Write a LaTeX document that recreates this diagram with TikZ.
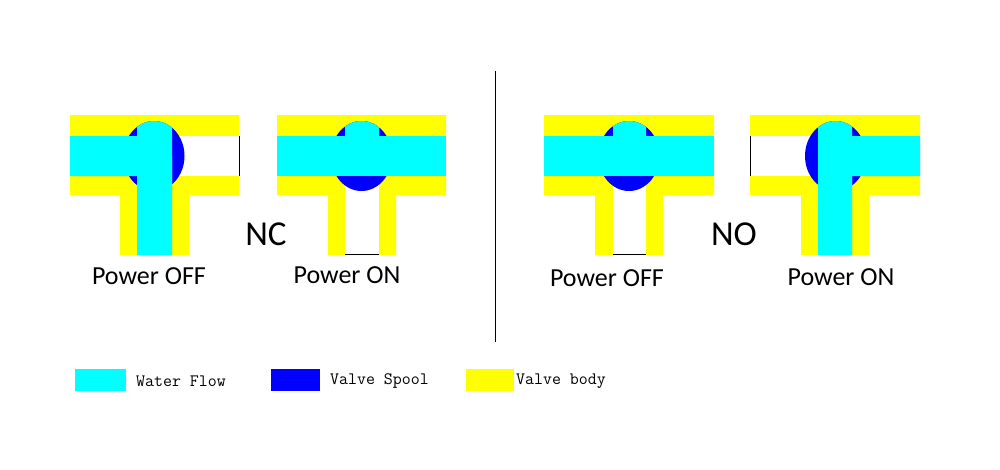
\documentclass[tikz,border=0pt]{standalone}
\usepackage{fontspec}
\setmainfont{Carlito}
\definecolor{waterc}{RGB}{0,255,255}
\definecolor{spoolc}{RGB}{0,0,255}
\definecolor{bodyc}{RGB}{255,255,0}
\begin{document}
\begin{tikzpicture}[x=1pt,y=-1pt,
	water/.style={fill=waterc},
	spool/.style={fill=spoolc},
	vbody/.style={fill=bodyc},
	port/.style={black,line width=0.8pt},
	state/.style={font=\fontsize{26}{26}\selectfont,inner sep=0pt},
	kind/.style={font=\fontsize{35}{35}\selectfont,inner sep=0pt},
	legend/.style={font=\ttfamily\fontsize{17.4}{17.4}\selectfont,inner sep=0pt,anchor=west}]
\useasboundingbox(0,0)rectangle(1000,469);
\fill[vbody](70,115)--(239,115)--(239,195)--(189,195)--(189,255)--(120,255)--(120,195)--(70,195)--cycle;
\fill[white](154,136)rectangle(239,176);
\fill[spool](154,156)ellipse[x radius=30.5pt,y radius=35pt];
\begin{scope}
\clip(137,110)rectangle(172,200);
\fill[water](154,156)ellipse[x radius=30.5pt,y radius=35pt];
\end{scope}
\fill[water](70,136)rectangle(137,176) (137,156)rectangle(172,255);
\draw[port](239,136)--(239,176);
\fill[vbody](277,115)--(446,115)--(446,195)--(396,195)--(396,255)--(328,255)--(328,195)--(277,195)--cycle;
\fill[white](345,170)rectangle(379,255);
\fill[spool](361.5,156)ellipse[x radius=30.5pt,y radius=35pt];
\begin{scope}
\clip(345,110)rectangle(379,140);
\fill[water](361.5,156)ellipse[x radius=30.5pt,y radius=35pt];
\end{scope}
\fill[water](277,136)rectangle(446,176);
\draw[port](345,254.5)--(379,254.5);
\fill[vbody](544,115)--(714,115)--(714,195)--(663,195)--(663,255)--(595,255)--(595,195)--(544,195)--cycle;
\fill[white](613,170)rectangle(646,255);
\fill[spool](629,156)ellipse[x radius=30.5pt,y radius=35pt];
\begin{scope}
\clip(613,110)rectangle(646,140);
\fill[water](629,156)ellipse[x radius=30.5pt,y radius=35pt];
\end{scope}
\fill[water](544,136)rectangle(714,176);
\draw[port](613,254.5)--(646,254.5);
\fill[vbody](750,115)--(920,115)--(920,195)--(869,195)--(869,255)--(801,255)--(801,195)--(750,195)--cycle;
\fill[white](750,136)rectangle(835,176);
\fill[spool](835.5,156)ellipse[x radius=30.5pt,y radius=35pt];
\begin{scope}
\clip(818,110)rectangle(852,200);
\fill[water](835.5,156)ellipse[x radius=30.5pt,y radius=35pt];
\end{scope}
\fill[water](852,136)rectangle(920,176) (818,156)rectangle(852,255);
\draw[port](750,136)--(750,176);
\draw[black,line width=0.8pt](495.5,71)--(495.5,342);
\node[state](offnc)at(149,276){Power OFF};
\node[state](onnc)at(347,275){Power ON};
\node[state](offno)at(607,278){Power OFF};
\node[state](onno)at(841,277){Power ON};
\node[kind](nc)at(266,234){NC};
\node[kind](no)at(734,234){NO};
\fill[water](75,369)rectangle(126,391);
\node[legend](lwater)at(136,381){Water Flow};
\fill[spool](271,369)rectangle(320,391);
\node[legend](lspool)at(330,381){Valve Spool};
\fill[vbody](466,369)rectangle(514,391);
\node[legend](lbody)at(516,381){Valve body};
\end{tikzpicture}
\end{document}
